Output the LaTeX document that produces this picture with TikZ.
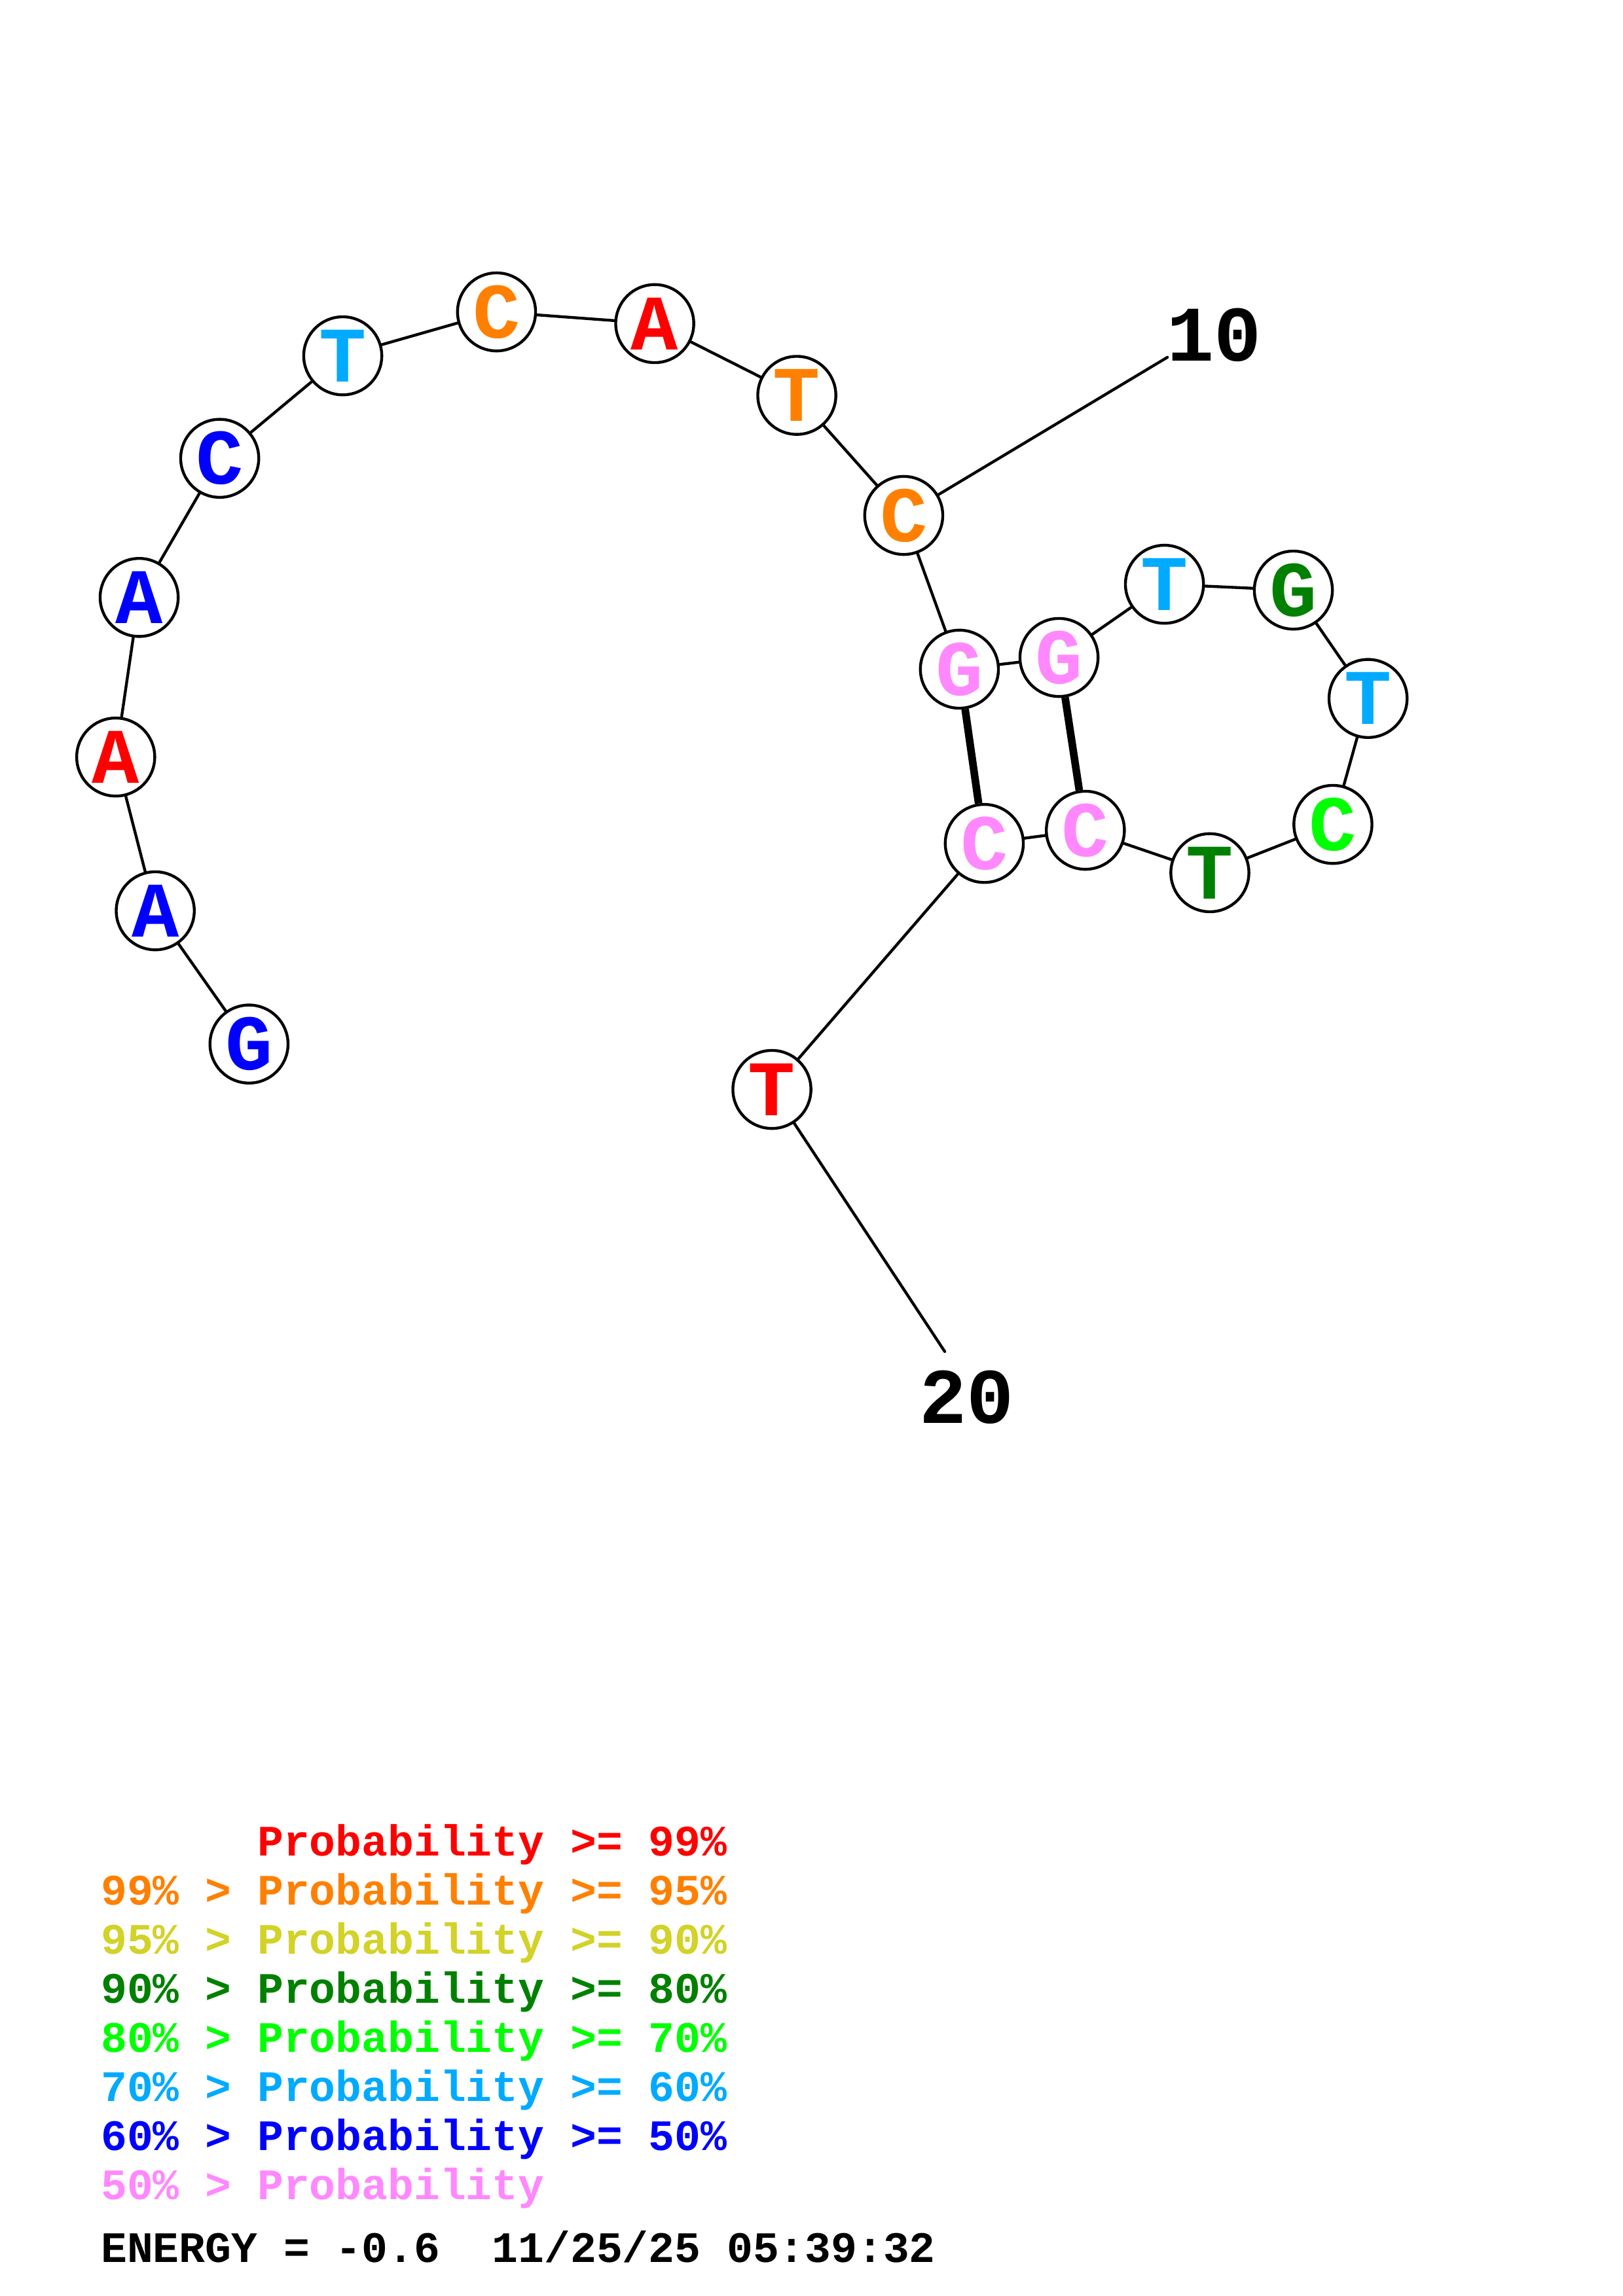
\documentclass[tikz,border=0pt]{standalone}
\usepackage{fontspec}
\setmainfont{Liberation Mono}
\usepackage{tikz}

\definecolor{prob99}{RGB}{255,0,0}
\definecolor{prob95}{RGB}{255,128,0}
\definecolor{prob90}{RGB}{210,210,40}
\definecolor{prob80}{RGB}{0,128,0}
\definecolor{prob70}{RGB}{0,255,0}
\definecolor{prob60}{RGB}{0,170,255}
\definecolor{prob50}{RGB}{0,0,255}
\definecolor{problow}{RGB}{255,136,255}

\begin{document}
\begin{tikzpicture}[
  x=0.18953mm,y=-0.18953mm,
  line width=1.05pt,
  line cap=round,
  base/.style={circle,draw,fill=white,inner sep=0pt,minimum size=10.1mm,
    font=\fontsize{29}{29}\selectfont\bfseries},
  pairbond/.style={line width=2.8pt,line cap=butt},
  numlabel/.style={inner sep=0pt,font=\fontsize{29}{29}\selectfont\bfseries},
  legend/.style={anchor=base west,inner sep=0pt,
    font=\fontsize{16}{16}\selectfont\bfseries}
]
  \useasboundingbox (0,0) rectangle (1108,1568);

  % Bases along the chain, 5' to 3'.
  \foreach \i/\b/\c/\x/\y in {
      1/G/prob50/170/713,  2/A/prob50/106/622,  3/A/prob99/79/517,
      4/A/prob50/95/408,   5/C/prob50/150/313,  6/T/prob60/234/243,
      7/C/prob95/339/213,  8/A/prob99/447/221,  9/T/prob95/544/270,
      10/C/prob95/617/352, 11/G/problow/655/457, 12/G/problow/723/449,
      13/T/prob60/795/399, 14/G/prob80/883/403, 15/T/prob60/934/477,
      16/C/prob70/910/563, 17/T/prob80/826/596, 18/C/problow/741/567,
      19/C/problow/672/576, 20/T/prob99/527/744}
    \node[base,text=\c] (n\i) at (\x,\y) {\b};

  % Backbone and the two base pairs.
  \foreach \i [remember=\i as \prev (initially 1)] in {2,...,20}
    \draw (n\prev) -- (n\i);
  \draw[pairbond] (n11) -- (n19);
  \draw[pairbond] (n12) -- (n18);

  % Position numbers.
  \node[numlabel] (lab10) at (829,229) {10};
  \coordinate (tip10) at (797,244);
  \draw (n10) -- (tip10);
  \node[numlabel] (lab20) at (660,954) {20};
  \coordinate (tip20) at (645,923);
  \draw (n20) -- (tip20);

  % Colour key.
  \node[legend,text=prob99] (key99) at (68,1267.5)
    {\phantom{99\% >} Probability >= 99\%};
  \node[legend,text=prob95] (key95) at (68,1301)
    {99\% > Probability >= 95\%};
  \node[legend,text=prob90] (key90) at (68,1334.5)
    {95\% > Probability >= 90\%};
  \node[legend,text=prob80] (key80) at (68,1368)
    {90\% > Probability >= 80\%};
  \node[legend,text=prob70] (key70) at (68,1401.5)
    {80\% > Probability >= 70\%};
  \node[legend,text=prob60] (key60) at (68,1435)
    {70\% > Probability >= 60\%};
  \node[legend,text=prob50] (key50) at (68,1468.5)
    {60\% > Probability >= 50\%};
  \node[legend,text=problow] (keylow) at (68,1502)
    {50\% > Probability};
  \node[legend] (energy) at (68,1545)
    {ENERGY = -0.6~~11/25/25 05:39:32};
\end{tikzpicture}
\end{document}
